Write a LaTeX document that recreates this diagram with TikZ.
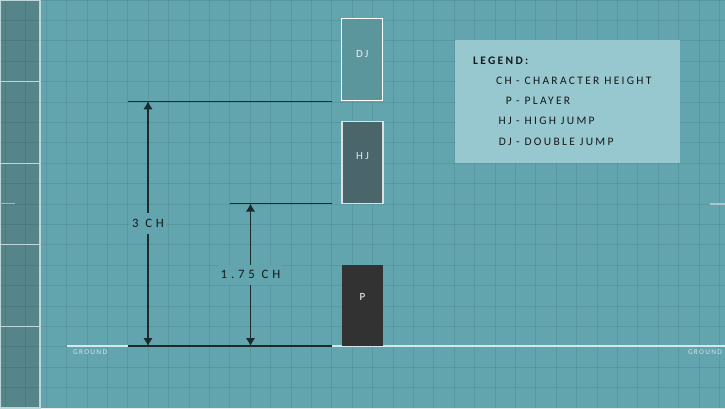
\documentclass[tikz,border=0pt]{standalone}
\usepackage{fontspec}
\setmainfont{Carlito}
\newfontfamily\legendfont{Carlito}[LetterSpace=20]
\newfontfamily\dimfont{Carlito}[LetterSpace=30]
\newfontfamily\groundfont{Carlito}[LetterSpace=18]
\usetikzlibrary{arrows.meta}
\definecolor{mbg}{HTML}{63A5AE}
\definecolor{mpanel}{HTML}{558489}
\definecolor{mpanelline}{HTML}{BCD6D9}
\definecolor{mground}{HTML}{D4E7EA}
\definecolor{mlegend}{HTML}{97C7CF}
\definecolor{mdj}{HTML}{5A969C}
\definecolor{mhj}{HTML}{4B666B}
\definecolor{mplayer}{HTML}{323232}
\definecolor{mink}{HTML}{15191A}
\definecolor{mline}{HTML}{1A2A2D}

\tikzset{
  gridline/.style={draw=black, opacity=0.08, line width=1pt},
  jumpbox/.style={minimum width=41pt, minimum height=81.6pt, inner sep=0pt, line width=1.2pt},
  boxlabel/.style={inner sep=0pt, text=#1, font=\legendfont\fontsize{11}{13}\selectfont},
  dimline/.style={draw=mline, line width=1.3pt},
  dimlabel/.style={fill=mbg, inner xsep=2pt, inner ysep=6pt, text=mink,
    font=\dimfont\fontsize{12.8}{14}\selectfont},
  legtext/.style={inner sep=0pt, text=mink, font=\legendfont\fontsize{11.5}{13}\selectfont},
  groundlabel/.style={inner sep=0pt, text=mground, font=\groundfont\fontsize{7.3}{9}\selectfont},
}

\begin{document}
\begin{tikzpicture}[x=1pt, y=-1pt, >={Latex[length=8pt,width=9.5pt]}]
  \useasboundingbox (0,0) rectangle (725,408);
  \fill [mbg] (0,0) rectangle (725,408);
  \fill [mpanel] (0,0) rectangle (40,408);

  % grid
  \foreach \i in {0,...,20}
    \draw [gridline] (0,20.4*\i) -- (725,20.4*\i);
  \foreach \i in {0,...,35}
    \draw [gridline] (5.4+20.4*\i,0) -- (5.4+20.4*\i,408);

  % side panel
  \draw [mpanelline, line width=1.2pt] (0,0) rectangle (40,408);
  \foreach \k in {1,...,4}
    \draw [mpanelline, line width=1.2pt] (0,81.6*\k) -- (40,81.6*\k);
  \draw [gray!60, line width=1pt] (0,203.5) -- (15,203.5);
  \draw [mpanelline!80!gray, line width=1.2pt] (710,204) -- (725,204);

  % ground
  \coordinate (gnd0) at (67,346);
  \coordinate (gnd9) at (725,346);
  \draw [mground, line width=1.8pt] (gnd0) -- (gnd9);
  \node [groundlabel, anchor=west] (gndleft) at (73,352.5) {GROUND};
  \node [groundlabel, anchor=east] (gndright) at (722,352.5) {GROUND};

  % legend
  \fill [mlegend] (455,40) rectangle (680,163);
  \node [legtext, anchor=base west, font=\legendfont\bfseries\fontsize{11.5}{13}\selectfont] (legtitle) at (473,64) {LEGEND:};
  \node [legtext, anchor=base east] (chkey) at (512,84.3) {CH};
  \node [legtext, anchor=base west] (chval) at (516,84.3) {- CHARACTER HEIGHT};
  \node [legtext, anchor=base east] (pkey) at (512,104.5) {P};
  \node [legtext, anchor=base west] (pval) at (516,104.5) {- PLAYER};
  \node [legtext, anchor=base east] (hjkey) at (512,124.7) {HJ};
  \node [legtext, anchor=base west] (hjval) at (516,124.7) {- HIGH JUMP};
  \node [legtext, anchor=base east] (djkey) at (512,145) {DJ};
  \node [legtext, anchor=base west] (djval) at (516,145) {- DOUBLE JUMP};

  % jump boxes
  \node [jumpbox, fill=mdj, draw=white] (dj) at (362.3,59.6) {};
  \node [jumpbox, fill=mhj, draw=gray!25] (hj) at (362.5,162.5) {};
  \node [jumpbox, fill=mplayer] (p) at (362.5,305.4) {};
  \node [boxlabel=white!88!mdj] (djtext) at ([yshift=6pt]dj.center) {DJ};
  \node [boxlabel=white!85!mhj] (hjtext) at ([yshift=6pt]hj.center) {HJ};
  \node [boxlabel=white] (ptext) at ([yshift=8.5pt]p.center) {P};

  % measures
  \coordinate (base1) at (128,346);
  \coordinate (base2) at (332,346);
  \coordinate (dj1) at (128,101.3);
  \coordinate (dj2) at (332,101.3);
  \coordinate (hj1) at (230,203.5);
  \coordinate (hj2) at (332,203.5);
  \coordinate (djtop) at (148,101.3);
  \coordinate (djbot) at (148,346);
  \coordinate (hjtop) at (250.5,203.5);
  \coordinate (hjbot) at (250.5,346);
  \draw [dimline] (base1) -- (base2);
  \draw [dimline] (dj1) -- (dj2);
  \draw [dimline] (hj1) -- (hj2);
  \draw [dimline, <->] (djtop) -- (djbot) node [dimlabel, midway] (djdim) {3 CH};
  \draw [dimline, <->] (hjtop) -- (hjbot) node [dimlabel, midway] (hjdim) {1.75 CH};
\end{tikzpicture}
\end{document}
